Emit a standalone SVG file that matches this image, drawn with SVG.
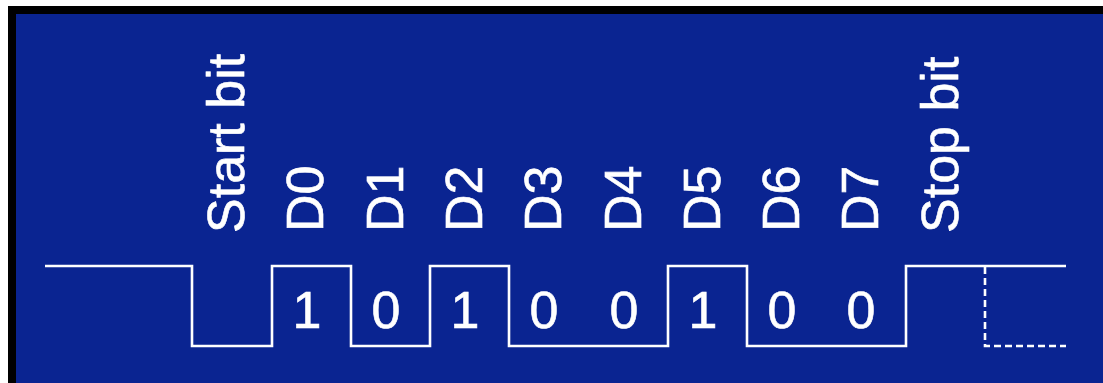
<svg xmlns="http://www.w3.org/2000/svg" width="1103" height="383" viewBox="0 0 1103 383">
<style>
.lbl{font-family:"Liberation Sans",Arial,sans-serif;font-size:52px;fill:#ffffff;stroke:#ffffff;stroke-width:0.6}
.bit{font-family:"Liberation Sans",Arial,sans-serif;font-size:52px;fill:#ffffff;stroke:#ffffff;stroke-width:0.6;text-anchor:middle}
.wave{fill:none;stroke:#ffffff;stroke-width:2.6;stroke-linejoin:miter}
.dash{fill:none;stroke:#ffffff;stroke-width:2.6;stroke-dasharray:7,4}
</style>
<rect x="0" y="0" width="1103" height="383" fill="#ffffff"/>
<rect x="8" y="6" width="1095" height="377" fill="#000000"/>
<rect x="16" y="14" width="1087" height="369" fill="#0a2491"/>
<g id="start-bit"><text class="lbl" transform="translate(244,233) rotate(-90)">Start bit</text></g>
<g id="d0"><text class="lbl" transform="translate(323,232) rotate(-90)">D0</text><text class="bit" x="307" y="328">1</text></g>
<g id="d1"><text class="lbl" transform="translate(403,232) rotate(-90)">D1</text><text class="bit" x="386" y="328">0</text></g>
<g id="d2"><text class="lbl" transform="translate(482,232) rotate(-90)">D2</text><text class="bit" x="465" y="328">1</text></g>
<g id="d3"><text class="lbl" transform="translate(561,232) rotate(-90)">D3</text><text class="bit" x="544" y="328">0</text></g>
<g id="d4"><text class="lbl" transform="translate(641,232) rotate(-90)">D4</text><text class="bit" x="624" y="328">0</text></g>
<g id="d5"><text class="lbl" transform="translate(720,232) rotate(-90)">D5</text><text class="bit" x="703" y="328">1</text></g>
<g id="d6"><text class="lbl" transform="translate(799,232) rotate(-90)">D6</text><text class="bit" x="782" y="328">0</text></g>
<g id="d7"><text class="lbl" transform="translate(878,232) rotate(-90)">D7</text><text class="bit" x="861" y="328">0</text></g>
<g id="stop-bit"><text class="lbl" transform="translate(958,233) rotate(-90)">Stop bit</text></g>
<g id="connectors">
<path class="wave" d="M45,266 H192 V346 H272 V266 H351 V346 H430 V266 H509 V346 H668 V266 H747 V346 H906 V266 H1066"/>
<path class="dash" d="M985,267 V346 H1066"/>
</g>
</svg>
